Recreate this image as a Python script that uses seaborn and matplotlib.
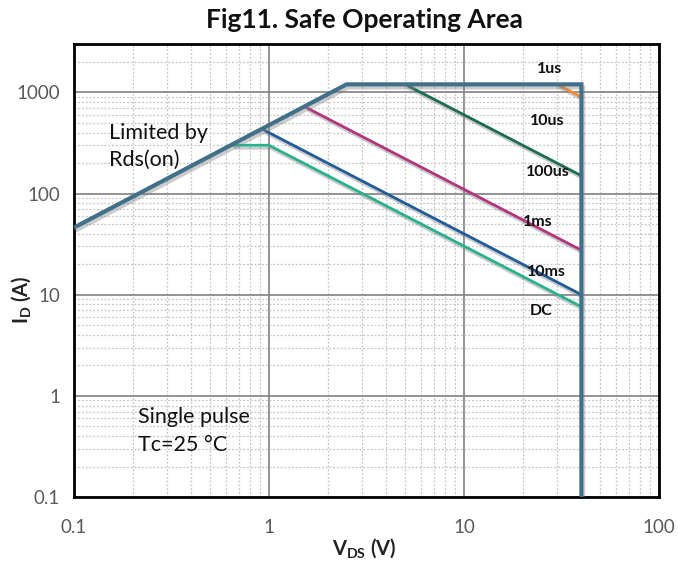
import matplotlib
matplotlib.use("Agg")
import matplotlib.pyplot as plt
import matplotlib.patheffects as pe
from matplotlib.ticker import LogLocator, NullFormatter
import seaborn as sns
import pandas as pd

# ---- data ----
boundary_v = [0.1, 2.5, 40, 40]
boundary_i = [46, 1200, 1200, 0.1]

us1_v = [30, 40]
us1_i = [1200, 900]

us100_v = [5, 40]
us100_i = [1200, 150]

ms1_v = [1.55, 40]
ms1_i = [710, 27.5]

ms10_v = [0.93, 40]
ms10_i = [430, 10]

dc_v = [0.65, 1.0, 40]
dc_i = [300, 300, 7.6]

curve_names = ["boundary", "1us", "100us", "1ms", "10ms", "DC"]
curve_colors = ["#41708b", "#f08a2a", "#1b6d50", "#b2357f", "#1f5c99", "#27b28b"]

label_texts = ["1us", "10us", "100us", "1ms", "10ms", "DC"]
label_v = [27.5, 26.7, 27.0, 24.0, 26.5, 25.0]
label_i = [1700, 520, 165, 52, 16.6, 6.9]

xticks = [0.1, 1, 10, 100]
xtick_labels = ["0.1", "1", "10", "100"]
yticks = [0.1, 1, 10, 100, 1000]
ytick_labels = ["0.1", "1", "10", "100", "1000"]

# ---- style ----
sns.set_style("white")
plt.rcParams["font.family"] = ["Lato", "DejaVu Sans"]
plt.rcParams["mathtext.fontset"] = "custom"
plt.rcParams["mathtext.rm"] = "Lato"
plt.rcParams["mathtext.bf"] = "Lato:bold"
plt.rcParams["mathtext.it"] = "Lato:italic"

fig = plt.figure(figsize=(6.78, 5.64), dpi=100)
ax = fig.add_axes([0.109, 0.1188, 0.863, 0.803])
ax.set_xscale("log")
ax.set_yscale("log")

series = {
    "boundary": (boundary_v, boundary_i),
    "1us": (us1_v, us1_i),
    "100us": (us100_v, us100_i),
    "1ms": (ms1_v, ms1_i),
    "10ms": (ms10_v, ms10_i),
    "DC": (dc_v, dc_i),
}

draw_order = ["DC", "10ms", "1ms", "100us", "1us", "boundary"]
for name in draw_order:
    v, i = series[name]
    df = pd.DataFrame({"V": v, "I": i})
    color = curve_colors[curve_names.index(name)]
    lw = 3.0 if name == "boundary" else 2.0
    shadow = pe.SimpleLineShadow(offset=(1.2, -2.2), shadow_color="#808080", alpha=0.4)
    sns.lineplot(data=df, x="V", y="I", ax=ax, color=color, linewidth=lw,
                 estimator=None, sort=False,
                 path_effects=[shadow, pe.Normal()],
                 solid_joinstyle="miter", solid_capstyle="butt", zorder=3)

ax.set_xlim(0.1, 100)
ax.set_ylim(0.1, 3000)

ax.set_xticks(xticks)
ax.set_xticklabels(xtick_labels)
ax.set_yticks(yticks)
ax.set_yticklabels(ytick_labels)
ax.xaxis.set_minor_locator(LogLocator(base=10, subs=range(2, 10), numticks=20))
ax.yaxis.set_minor_locator(LogLocator(base=10, subs=range(2, 10), numticks=20))
ax.xaxis.set_minor_formatter(NullFormatter())
ax.yaxis.set_minor_formatter(NullFormatter())

ax.grid(True, which="major", color="#8a8a8a", linewidth=1.3, linestyle="-", zorder=0)
ax.grid(True, which="minor", color="#c4c4c4", linewidth=0.9, linestyle=(0, (1.5, 1.5)), zorder=0)
ax.set_axisbelow(True)

ax.tick_params(axis="both", which="both", length=0, labelsize=13.5, labelcolor="#5a5a5a")
ax.tick_params(axis="x", pad=16)
ax.tick_params(axis="y", pad=10)

for s in ax.spines.values():
    s.set_visible(True)
    s.set_color("black")
    s.set_linewidth(2.0)

ax.set_xlabel(r"$\mathbf{V_{DS}}$ (V)", fontsize=14.5, fontweight="bold", color="#222222")
ax.set_ylabel(r"$\mathbf{I_D}$ (A)", fontsize=14.5, fontweight="bold", color="#222222")
ax.xaxis.label.set_va("center")
ax.yaxis.label.set_va("center")
ax.xaxis.set_label_coords(0.497, -0.112)
ax.yaxis.set_label_coords(-0.09, 0.435)

fig.text(0.538, 0.9645, "Fig11. Safe Operating Area", ha="center", va="center",
         fontsize=19, fontweight="bold", color="#111111")

for t, v, i in zip(label_texts, label_v, label_i):
    ax.text(v, i, t, ha="center", va="center", fontsize=11.5, fontweight="bold",
            color="#111111", zorder=5)

ax.text(0.151, 292, "Limited by\nRds(on)", ha="left", va="center", fontsize=15.5,
        color="#111111", linespacing=1.45, zorder=5)
ax.text(0.213, 0.45, "Single pulse\nTc=25 °C", ha="left", va="center", fontsize=15.5,
        color="#111111", linespacing=1.45, zorder=5)

fig.savefig("out.png", dpi=100)
